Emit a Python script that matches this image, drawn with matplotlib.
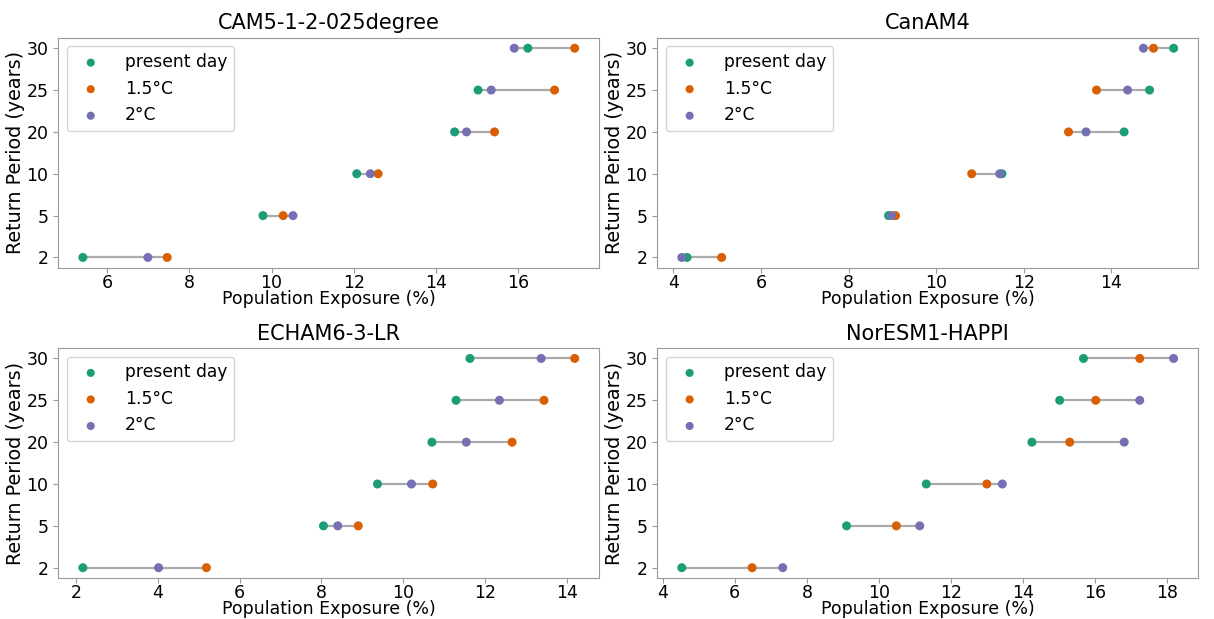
import numpy as np
import matplotlib
matplotlib.use("Agg")
import matplotlib.pyplot as plt

# return periods (categorical y axis)
periods = ["2", "5", "10", "20", "25", "30"]
scenarios = ["present day", "1.5°C", "2°C"]
colors = ["#1b9e77", "#d95f02", "#7570b3"]

models = ["CAM5-1-2-025degree", "CanAM4", "ECHAM6-3-LR", "NorESM1-HAPPI"]

# population exposure (%) per model, order of periods above
cam5_present = [5.41, 9.79, 12.07, 14.45, 15.02, 16.23]
cam5_15 = [7.46, 10.28, 12.59, 15.42, 16.88, 17.37]
cam5_20 = [6.99, 10.52, 12.40, 14.74, 15.34, 15.90]

canam_present = [4.31, 8.91, 11.50, 14.29, 14.87, 15.42]
canam_15 = [5.10, 9.07, 10.81, 13.02, 13.66, 14.96]
canam_20 = [4.19, 8.98, 11.45, 13.42, 14.37, 14.73]

echam_present = [2.17, 8.05, 9.37, 10.70, 11.29, 11.63]
echam_15 = [5.19, 8.90, 10.72, 12.66, 13.44, 14.19]
echam_20 = [4.02, 8.40, 10.20, 11.54, 12.35, 13.37]

noresm_present = [4.53, 9.10, 11.31, 14.24, 15.01, 15.67]
noresm_15 = [6.48, 10.48, 12.99, 15.29, 16.01, 17.23]
noresm_20 = [7.33, 11.13, 13.42, 16.80, 17.23, 18.17]

data = [
    [cam5_present, cam5_15, cam5_20],
    [canam_present, canam_15, canam_20],
    [echam_present, echam_15, echam_20],
    [noresm_present, noresm_15, noresm_20],
]

fig, axes = plt.subplots(2, 2, figsize=(12.14, 6.19), dpi=100)
fig.subplots_adjust(left=0.048, right=0.987, top=0.939, bottom=0.066,
                    wspace=0.107, hspace=0.348)

ypos = np.arange(len(periods))
for ax, name, series in zip(axes.flat, models, data):
    arr = np.array(series)
    ax.hlines(ypos, arr.min(axis=0), arr.max(axis=0), color="#aaaaaa",
              linewidth=1.6, zorder=1)
    for vals, lab, c in zip(series, scenarios, colors):
        ax.scatter(vals, ypos, s=42, color=c, label=lab, zorder=3,
                   edgecolors="none")
    ax.set_yticks(ypos)
    ax.set_yticklabels(periods)
    ax.set_title(name, fontsize=15)
    ax.set_xlabel("Population Exposure (%)", fontsize=12.5, labelpad=-1.5)
    ax.set_ylabel("Return Period (years)", fontsize=13.8, labelpad=1)
    ax.tick_params(labelsize=12.5, color="#999999")
    ax.tick_params(axis="x", pad=1)
    for sp in ax.spines.values():
        sp.set_color("#999999")
    ax.legend(loc="upper left", fontsize=12.3, markerscale=0.9,
              handletextpad=1.0)

plt.savefig("out.png", dpi=100)
